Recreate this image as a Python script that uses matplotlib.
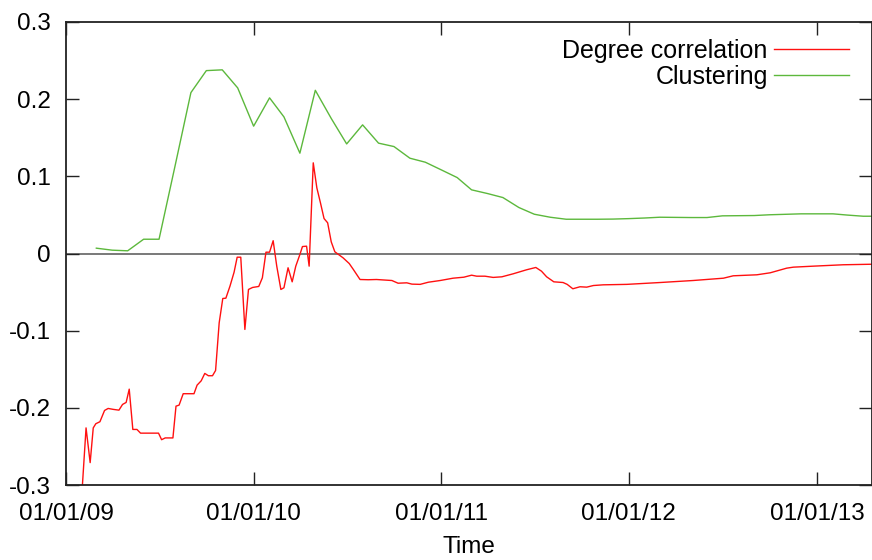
import matplotlib
matplotlib.use('Agg')
import matplotlib.pyplot as plt
import matplotlib.dates as mdates
from matplotlib.ticker import FuncFormatter
import pandas as pd

plt.rcParams['font.family'] = ['Liberation Sans', 'DejaVu Sans']
plt.rcParams['axes.unicode_minus'] = False

# Degree correlation: dias desde 01/01/09 e valor
dc_dias = [31, 39, 47, 53, 58, 66, 75, 82, 92, 103, 110, 117, 123, 130, 138, 145,
           180, 186, 193, 208, 214, 220, 228, 249, 255, 263, 270, 277, 285, 291,
           298, 305, 311, 319, 327, 333, 340, 348, 355, 363, 375, 382, 389, 396,
           403, 410, 418, 424, 432, 440, 447, 455, 460, 468, 473, 481, 488, 495,
           502, 509, 516, 523, 539, 551, 559, 572, 588, 604, 634, 646, 663, 673,
           689, 705, 728, 753, 774, 789, 799, 815, 831, 848, 870, 896, 914, 925,
           935, 949, 967, 975, 986, 1000, 1013, 1026, 1045, 1091, 1156, 1220,
           1279, 1298, 1344, 1370, 1402, 1415, 1454, 1512, 1568]
dc_valor = [-0.31, -0.226, -0.271, -0.226, -0.2206, -0.218, -0.2034, -0.2008,
            -0.202, -0.203, -0.1956, -0.193, -0.1758, -0.228, -0.228, -0.2328,
            -0.2328, -0.2413, -0.239, -0.239, -0.1978, -0.1965, -0.1817, -0.1817,
            -0.1706, -0.165, -0.1554, -0.1584, -0.1584, -0.1516, -0.0898, -0.0583,
            -0.0579, -0.0423, -0.0242, -0.0048, -0.0048, -0.0984, -0.0466, -0.044,
            -0.0427, -0.0315, 0.0017, 0.0017, 0.0166, -0.0164, -0.0466, -0.0444,
            -0.0185, -0.0367, -0.0164, -0.0013, 0.009, 0.0095, -0.0164, 0.1175,
            0.085, 0.0657, 0.0453, 0.0398, 0.0151, 0.0022, -0.0056, -0.013,
            -0.0207, -0.0337, -0.034, -0.0337, -0.035, -0.0385, -0.038, -0.0397,
            -0.040, -0.0372, -0.035, -0.032, -0.0307, -0.0281, -0.0294, -0.0294,
            -0.031, -0.0302, -0.0263, -0.0211, -0.0181, -0.0229, -0.0302, -0.0367,
            -0.0376, -0.040, -0.0457, -0.0431, -0.0436, -0.0415, -0.0406, -0.040,
            -0.0376, -0.035, -0.032, -0.0289, -0.0276, -0.025, -0.019, -0.0177,
            -0.0164, -0.0146, -0.0139]

# Clustering: um ponto por mes, a partir de marco/2009
cl_inicio = '2009-03-01'
cl_valor = [0.0069, 0.0043, 0.0035, 0.0185, 0.0185, 0.113, 0.2085, 0.237, 0.238,
            0.2146, 0.165, 0.2017, 0.177, 0.130, 0.2115, 0.175, 0.142, 0.1667,
            0.143, 0.1386, 0.1235, 0.1183, 0.1084, 0.0984, 0.0825, 0.0777, 0.0725,
            0.0596, 0.0509, 0.047, 0.0444, 0.0444, 0.0444, 0.0446, 0.0452, 0.046,
            0.047, 0.0468, 0.0466, 0.0466, 0.0488, 0.049, 0.0492, 0.0502, 0.0508,
            0.0514, 0.0514, 0.0514, 0.0498, 0.0483, 0.0483]

inicio = pd.Timestamp('2009-01-01')
dc_datas = inicio + pd.to_timedelta(dc_dias, unit='D')
cl_datas = pd.date_range(cl_inicio, periods=len(cl_valor), freq='MS')

fig = plt.figure(figsize=(8.72, 5.6), dpi=100)
ax = fig.add_axes([66 / 872, 75 / 560, 806 / 872, 463 / 560])

ax.axhline(0, color='#555555', lw=1.1, zorder=1)
ax.plot(dc_datas, dc_valor, color='#ff1010', lw=1.0, label='Degree correlation')
ax.plot(cl_datas, cl_valor, color='#5cb83c', lw=1.0, label='Clustering')

ax.set_xlim(inicio, inicio + pd.Timedelta(days=1568))
ax.set_ylim(-0.3, 0.3)
ax.set_yticks([-0.3, -0.2, -0.1, 0, 0.1, 0.2, 0.3])
ax.yaxis.set_major_formatter(FuncFormatter(lambda v, p: '%g' % round(v, 2)))
ax.xaxis.set_major_locator(mdates.YearLocator())
ax.xaxis.set_major_formatter(mdates.DateFormatter('%m/%d/%y'))

ax.tick_params(direction='in', top=True, right=True, length=9.5, width=1.0,
               labelsize=17.5, color='#222222')
ax.tick_params(axis='x', pad=13)
ax.tick_params(axis='y', pad=11)
for s in ax.spines.values():
    s.set_linewidth(1.3)
    s.set_color('#222222')

ax.set_xlabel('Time', fontsize=17.5, labelpad=8)

ax.legend(loc='upper right', bbox_to_anchor=(0.9715, 0.963), frameon=False,
          markerfirst=False, handlelength=3.0, handletextpad=0.25,
          borderaxespad=0, borderpad=0, labelspacing=0.08, fontsize=18)

fig.savefig('out.png', dpi=100)
